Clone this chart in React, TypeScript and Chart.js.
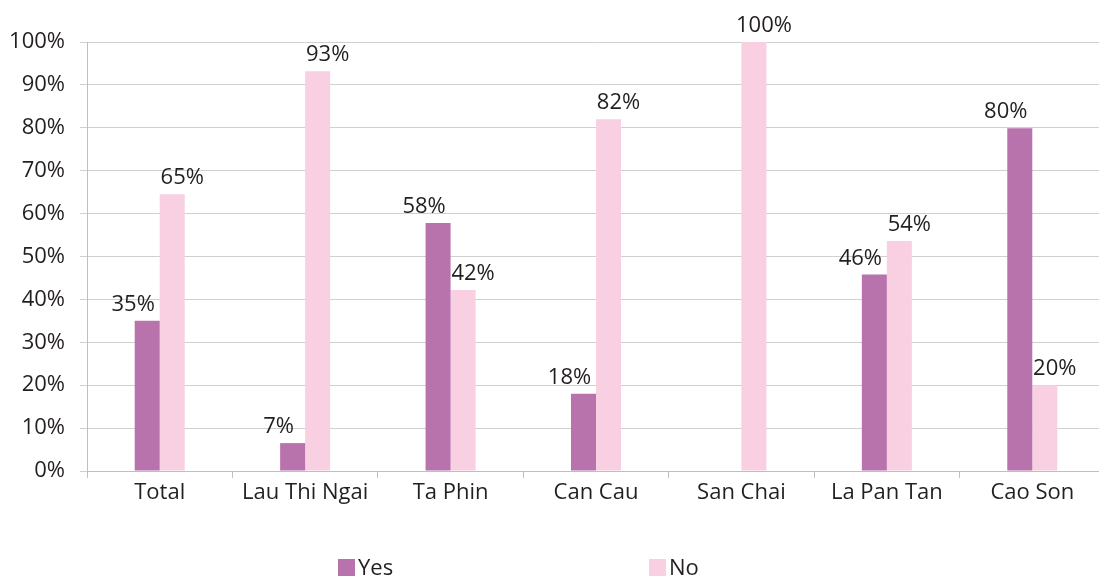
import React, { useEffect, useRef } from "react";
import { Chart, registerables } from "chart.js";

Chart.register(...registerables);

const categories = ["Total", "Lau Thi Ngai", "Ta Phin", "Can Cau", "San Chai", "La Pan Tan", "Cao Son"];
const yesValues = [35, 6.5, 57.8, 18, 0, 45.8, 79.9];
const noValues = [64.5, 93.2, 42.2, 82, 100, 53.6, 20];
const seriesNames = ["Yes", "No"];
const yTicks = [0, 10, 20, 30, 40, 50, 60, 70, 80, 90, 100];

const COLORS = ["#b873ad", "#f9cfe2"];
const TEXT = "#231f20";
const FONT = "'Open Sans', 'Noto Sans', sans-serif";

const labelPlugin = {
  id: "valueLabels",
  afterDatasetsDraw(chart: any) {
    const ctx = chart.ctx;
    ctx.save();
    ctx.font = `22px ${FONT}`;
    ctx.fillStyle = TEXT;
    ctx.textAlign = "center";
    ctx.textBaseline = "alphabetic";
    const offsets = [-14, 10];
    chart.data.datasets.forEach((ds: any, di: number) => {
      const meta = chart.getDatasetMeta(di);
      meta.data.forEach((el: any, i: number) => {
        const v = ds.data[i];
        if (!v) return;
        ctx.fillText(Math.round(v) + "%", el.x + offsets[di], el.y - 10);
      });
    });
    ctx.restore();
  },
};

const legendPlugin = {
  id: "customLegend",
  afterDraw(chart: any) {
    const ctx = chart.ctx;
    ctx.save();
    ctx.font = `22px ${FONT}`;
    ctx.textBaseline = "middle";
    ctx.textAlign = "left";
    const startX = 338;
    const gap = 311;
    const boxTop = 559;
    const box = 17;
    seriesNames.forEach((name, i) => {
      const x = startX + i * gap;
      ctx.fillStyle = COLORS[i];
      ctx.fillRect(x, boxTop, box, box);
      ctx.fillStyle = TEXT;
      ctx.fillText(name, x + box + 3, boxTop + box / 2 + 1);
    });
    ctx.restore();
  },
};

export default function App() {
  const ref = useRef<HTMLCanvasElement>(null);
  useEffect(() => {
    document.body.style.overflow = "hidden";
    const chart = new Chart(ref.current!, {
      type: "bar",
      data: {
        labels: categories,
        datasets: [
          { label: seriesNames[0], data: yesValues, backgroundColor: COLORS[0], categoryPercentage: 0.344, barPercentage: 1 },
          { label: seriesNames[1], data: noValues, backgroundColor: COLORS[1], categoryPercentage: 0.344, barPercentage: 1 },
        ],
      },
      options: {
        responsive: false,
        animation: false,
        layout: { padding: { top: 42, bottom: 69, left: 0, right: 1 } },
        plugins: { legend: { display: false }, tooltip: { enabled: false } },
        scales: {
          x: {
            offset: true,
            grid: { display: true, drawOnChartArea: false, drawTicks: true, tickLength: 7, offset: true, color: "#bfbfbf" },
            border: { color: "#bfbfbf" },
            ticks: { color: TEXT, font: { family: FONT, size: 22 }, padding: 2, maxRotation: 0 },
            afterFit: (s: any) => { s.height = 40; },
          },
          y: {
            min: 0,
            max: 100,
            afterBuildTicks: (s: any) => { s.ticks = yTicks.map((v) => ({ value: v })); },
            grid: { color: "#d0d0d0", tickLength: 7 },
            border: { color: "#bfbfbf" },
            ticks: { color: TEXT, font: { family: FONT, size: 22 }, padding: 15, callback: (v: any) => v + "%" },
            afterFit: (s: any) => { s.width = 87; },
          },
        },
      },
      plugins: [labelPlugin, legendPlugin],
    });
    return () => chart.destroy();
  }, []);
  return (
    <canvas
      ref={ref}
      width={1106}
      height={580}
      style={{ position: "absolute", left: 0, top: 0, width: 1106, height: 580 }}
    />
  );
}
